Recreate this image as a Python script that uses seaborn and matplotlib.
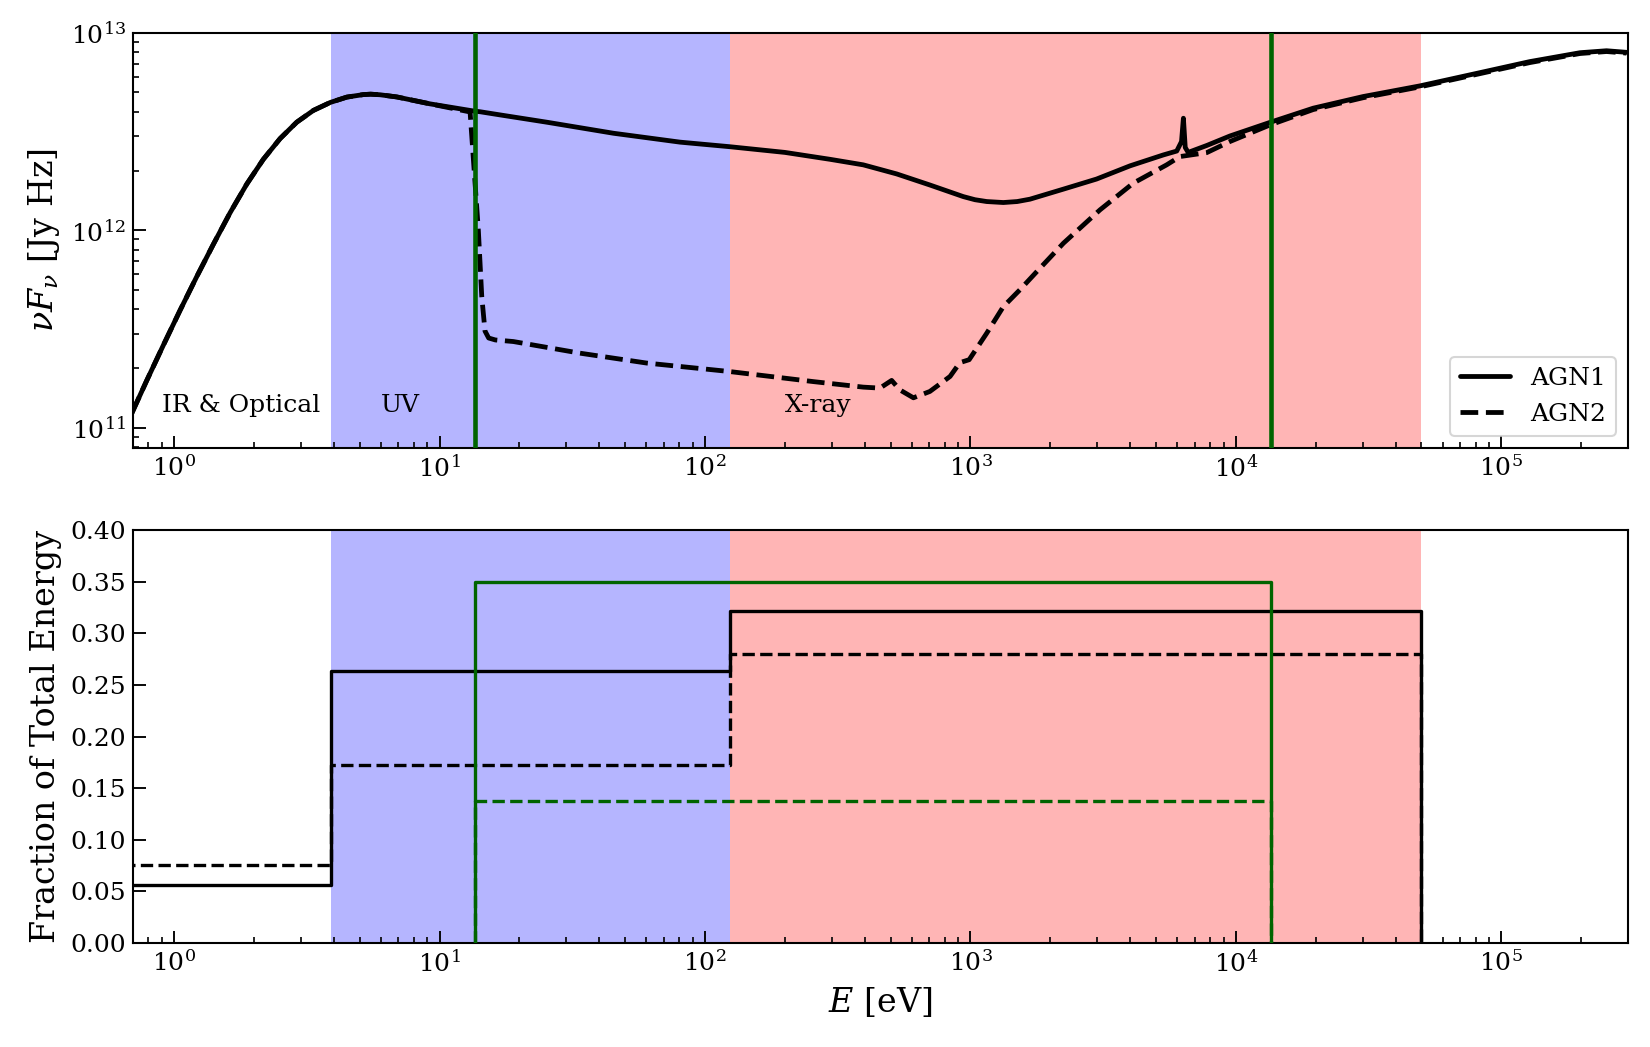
import numpy as np
import pandas as pd
import matplotlib
matplotlib.use("Agg")
import matplotlib.pyplot as plt
import seaborn as sns
from matplotlib.ticker import MultipleLocator, FormatStrFormatter, NullFormatter

# ---------------- data ----------------
# AGN1 spectrum: energy [eV], nu F_nu [1e12 Jy Hz]
E_agn1 = [0.693, 0.789, 0.912, 1.053, 1.216, 1.406, 1.626, 1.879, 2.168, 2.507,
          2.897, 3.350, 3.873, 4.470, 5.164, 5.500, 5.970, 6.902, 9.204, 13.40,
          14.22, 16.90, 25.35, 45.19, 80.54, 123.6, 200.0, 295.8, 394.5, 527.2,
          703.1, 939.7, 1040, 1151, 1330, 1500, 1675, 2239, 2985, 3990,
          5321, 5984, 6237, 6340, 6442, 6607, 7762, 9484, 13430, 19540,
          30130, 49320, 82990, 127900, 197700, 248900, 295800]
F_agn1 = [0.1186, 0.1738, 0.2630, 0.3936, 0.5821, 0.8511, 1.230, 1.718, 2.291, 2.917,
          3.532, 4.055, 4.446, 4.732, 4.875, 4.898, 4.864, 4.742, 4.375, 4.027,
          3.990, 3.846, 3.532, 3.105, 2.799, 2.655, 2.483, 2.291, 2.148, 1.932,
          1.698, 1.483, 1.430, 1.400, 1.384, 1.400, 1.439, 1.618, 1.820, 2.123,
          2.410, 2.523, 2.818, 3.700, 2.630, 2.483, 2.692, 3.006, 3.524, 4.159,
          4.764, 5.395, 6.295, 7.161, 7.943, 8.128, 7.980]

# AGN2 spectrum
E_agn2 = [0.693, 0.789, 0.912, 1.053, 1.216, 1.406, 1.626, 1.879, 2.168, 2.507,
          2.897, 3.350, 3.873, 4.470, 5.164, 5.500, 5.970, 6.902, 9.204, 13.03,
          14.00, 14.42, 14.83, 15.31, 16.22, 18.97, 33.81, 60.26, 123.6, 255.9,
          394.5, 456.0, 504.7, 542.0, 609.5, 703.1, 837.5, 912.0, 988.6, 1151,
          1330, 1535, 1774, 2239, 3076, 4102, 5483, 6152, 6607, 7762,
          9484, 13430, 19540, 30130, 49320, 82990, 127900, 197700, 248900, 295800]
F_agn2 = [0.1186, 0.1738, 0.2630, 0.3936, 0.5821, 0.8511, 1.230, 1.718, 2.291, 2.917,
          3.532, 4.055, 4.446, 4.732, 4.875, 4.898, 4.864, 4.742, 4.375, 3.980,
          1.000, 0.4624, 0.3090, 0.2850, 0.2786, 0.2735, 0.2388, 0.2128, 0.1928, 0.1714,
          0.1607, 0.1589, 0.1738, 0.1556, 0.1419, 0.1528, 0.1820, 0.2138, 0.2213, 0.3013,
          0.4111, 0.5000, 0.6166, 0.8610, 1.271, 1.734, 2.148, 2.366, 2.399, 2.477,
          2.818, 3.420, 4.093, 4.699, 5.333, 6.223, 7.079, 7.870, 8.054, 7.907]

# band boundaries [eV]
band_uv = (3.9, 124.0)
band_xray = (124.0, 5.0e4)
ion_range = (13.6, 13.6e3)

# fraction of total energy per band
step_edges = [0.1, 3.9, 124.0, 5.0e4]
frac_agn1 = [0.0564, 0.263, 0.322, 0.0]
frac_agn2 = [0.076, 0.172, 0.280, 0.0]
ion_edges = [13.6, 13.6, 13.6e3]
frac_ion_agn1 = [0.0, 0.350, 0.0]
frac_ion_agn2 = [0.0, 0.138, 0.0]

region_labels = ["IR & Optical", "UV", "X-ray"]
region_label_x = [0.9, 6.0, 200.0]

# ---------------- style ----------------
sns.set_theme(style="ticks")
plt.rcParams.update({
    "font.family": ["DejaVu Serif"],
    "mathtext.fontset": "dejavuserif",
    "axes.edgecolor": "black",
    "axes.linewidth": 1.0,
    "axes.labelcolor": "black",
    "text.color": "black",
    "xtick.color": "black",
    "ytick.color": "black",
    "xtick.direction": "in",
    "ytick.direction": "in",
    "xtick.major.size": 6,
    "ytick.major.size": 6,
    "xtick.minor.size": 3,
    "ytick.minor.size": 3,
    "xtick.major.width": 0.9,
    "ytick.major.width": 0.9,
    "xtick.minor.width": 0.8,
    "ytick.minor.width": 0.8,
    "xtick.labelsize": 12,
    "ytick.labelsize": 12,
    "axes.labelsize": 16,
    "lines.solid_joinstyle": "round",
    "lines.dash_joinstyle": "round",
})

green = "#006400"

fig = plt.figure(figsize=(11, 6.98), dpi=150)
ax1 = fig.add_axes([0.0806, 0.5721, 0.9061, 0.3964])
ax2 = fig.add_axes([0.0806, 0.0993, 0.9061, 0.3945])

for ax in (ax1, ax2):
    ax.set_xscale("log")
    ax.axvspan(*band_uv, color="blue", alpha=0.29, lw=0, zorder=0)
    ax.axvspan(*band_xray, color="red", alpha=0.29, lw=0, zorder=0)

ax1.set_yscale("log")

# ---------------- top panel ----------------
spec1 = pd.DataFrame({"E": E_agn1, "F": np.array(F_agn1) * 1e12})
spec2 = pd.DataFrame({"E": E_agn2, "F": np.array(F_agn2) * 1e12})
sns.lineplot(data=spec1, x="E", y="F", ax=ax1, color="black", lw=2.3,
             estimator=None, sort=False, label="AGN1", zorder=3)
sns.lineplot(data=spec2, x="E", y="F", ax=ax1, color="black", lw=2.3,
             linestyle="--", estimator=None, sort=False, label="AGN2", zorder=3)
for e in ion_range:
    ax1.axvline(e, color=green, lw=2.2, zorder=4)

for lab, xpos in zip(region_labels, region_label_x):
    ax1.text(xpos, 1.2e11, lab, fontsize=12, ha="left", va="baseline")

ax1.set_xlim(0.7, 3.0e5)
ax1.set_ylim(7.9e10, 1e13)
ax1.set_xlabel("")
ax1.set_ylabel(r"$\nu F_\nu$ [Jy Hz]", fontsize=16)
ax1.yaxis.set_minor_formatter(NullFormatter())
ax1.xaxis.set_minor_formatter(NullFormatter())
leg = ax1.legend(loc="lower right", fontsize=12, frameon=True, fancybox=True,
                 edgecolor="0.8", framealpha=0.8)
leg.get_frame().set_linewidth(1.0)

# ---------------- bottom panel ----------------
steps1 = pd.DataFrame({"E": step_edges, "f": frac_agn1})
steps2 = pd.DataFrame({"E": step_edges, "f": frac_agn2})
ion1 = pd.DataFrame({"E": ion_edges, "f": frac_ion_agn1})
ion2 = pd.DataFrame({"E": ion_edges, "f": frac_ion_agn2})
sns.lineplot(data=steps1, x="E", y="f", ax=ax2, color="black", lw=1.6,
             drawstyle="steps-post", estimator=None, sort=False, legend=False, zorder=3)
sns.lineplot(data=steps2, x="E", y="f", ax=ax2, color="black", lw=1.6, linestyle="--",
             drawstyle="steps-post", estimator=None, sort=False, legend=False, zorder=3)
sns.lineplot(data=ion1, x="E", y="f", ax=ax2, color=green, lw=1.6,
             drawstyle="steps-post", estimator=None, sort=False, legend=False, zorder=3)
sns.lineplot(data=ion2, x="E", y="f", ax=ax2, color=green, lw=1.6, linestyle="--",
             drawstyle="steps-post", estimator=None, sort=False, legend=False, zorder=3)

ax2.set_xlim(0.7, 3.0e5)
ax2.set_ylim(0.0, 0.40)
ax2.yaxis.set_major_locator(MultipleLocator(0.05))
ax2.yaxis.set_major_formatter(FormatStrFormatter("%.2f"))
ax2.xaxis.set_minor_formatter(NullFormatter())
ax2.set_xlabel(r"$E$ [eV]", fontsize=16)
ax2.set_ylabel("Fraction of Total Energy", fontsize=16)

fig.align_ylabels([ax1, ax2])
fig.savefig("out.png", dpi=150)
